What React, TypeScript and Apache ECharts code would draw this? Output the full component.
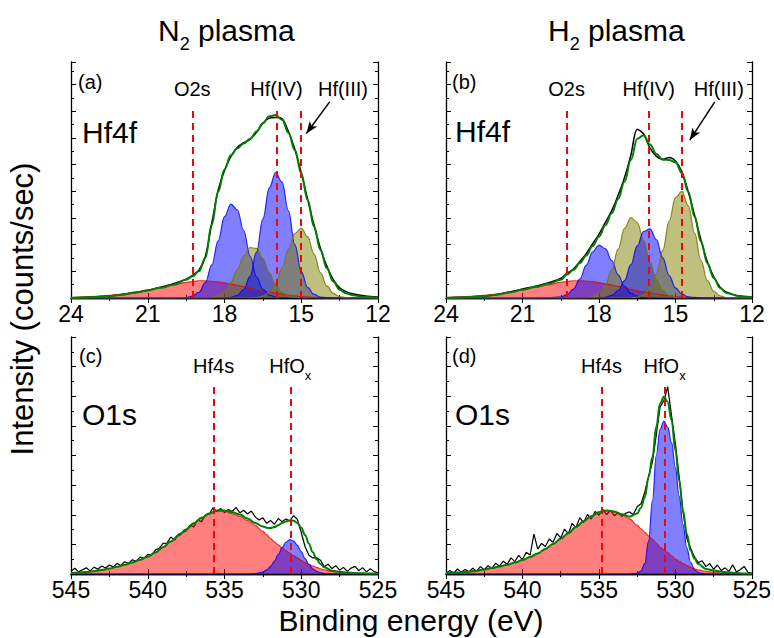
import React, { useEffect, useRef } from "react";
import * as echarts from "echarts";

const FONT = "'Liberation Sans', Arimo, Arial, Helvetica, sans-serif";

// ---------- Hf 4f (panels a, b) ----------
const hfEnergy = [24, 23.5, 23, 22.5, 22, 21.5, 21, 20.5, 20, 19.5, 19.25, 19, 18.75, 18.5, 18.25, 18, 17.75, 17.5, 17.25, 17, 16.75, 16.5, 16.25, 16, 15.75, 15.5, 15.25, 15, 14.75, 14.5, 14.25, 14, 13.75, 13.5, 13.25, 13, 12.5, 12];

const aData = [0.1, 0.3, 0.5, 0.9, 1.5, 2.3, 3.3, 4.6, 6.1, 8.0, 9.6, 11.8, 17.5, 31.5, 45.5, 54, 60, 63.8, 65.8, 67.2, 70.2, 74, 76.2, 76.5, 76, 70.5, 63, 53, 41.8, 30.8, 21, 13.5, 7.8, 4.3, 2.7, 1.8, 0.8, 0.4];
const aFit = [0, 0.2, 0.4, 0.8, 1.4, 2.2, 3.2, 4.3, 5.6, 7.7, 9.2, 11.3, 17, 31, 45, 54.5, 60.5, 63.5, 65.5, 67.5, 70.5, 74, 77, 77.5, 75.5, 70, 62.7, 52.8, 41.5, 30.3, 20.4, 12.7, 7, 3.5, 2, 1.2, 0.4, 0.2];
const aRed = [0.2, 0.4, 0.7, 1.1, 1.7, 2.5, 3.4, 4.5, 5.6, 6.6, 7.0, 7.3, 7.3, 7.1, 6.8, 6.4, 5.9, 5.4, 4.8, 4.2, 3.6, 3.0, 2.5, 2.0, 1.6, 1.2, 0.9, 0.6, 0.45, 0.3, 0.2, 0.1, 0.05, 0, 0, 0, 0, 0];
const aBlue1 = [0, 0, 0, 0, 0, 0, 0, 0, 0, 0.19, 0.76, 2.4, 6.5, 13.9, 24.2, 34.5, 39.8, 37.4, 28.6, 17.8, 9, 3.7, 1.24, 0.34, 0.08, 0, 0, 0, 0, 0, 0, 0, 0, 0, 0, 0, 0, 0];
const aOlive1 = [0, 0, 0, 0, 0, 0, 0, 0, 0, 0, 0, 0, 0, 0.32, 1.07, 2.9, 6.6, 12, 17.8, 21.4, 21, 16.7, 10.8, 5.7, 2.4, 0.9, 0.25, 0.06, 0, 0, 0, 0, 0, 0, 0, 0, 0, 0];
const aBlue2 = [0, 0, 0, 0, 0, 0, 0, 0, 0, 0, 0, 0, 0, 0, 0, 0, 0.28, 1.1, 3.6, 9.2, 19.5, 33.5, 46.7, 53.1, 49.1, 36.9, 22.6, 11.2, 4.5, 1.5, 0.4, 0.1, 0, 0, 0, 0, 0, 0];
const aOlive2 = [0, 0, 0, 0, 0, 0, 0, 0, 0, 0, 0, 0, 0, 0, 0, 0, 0, 0, 0, 0, 0.22, 0.83, 2.5, 6.2, 12.6, 20.5, 27.3, 29.6, 26, 18.6, 10.8, 5.1, 2, 0.6, 0.16, 0, 0, 0];

const bData = [0.1, 0.3, 0.5, 0.9, 1.5, 2.5, 3.8, 5.0, 6.4, 8.3, 10.5, 12.3, 15.5, 18.8, 23, 27, 32, 37, 43.5, 51, 60.5, 71.5, 69.5, 63.5, 60, 58.8, 59.5, 58, 53.5, 45, 35, 24.5, 15.3, 9, 4.6, 2.5, 0.9, 0.4];
const bFit = [0, 0.2, 0.4, 0.8, 1.4, 2.3, 3.5, 4.7, 6, 7.7, 10, 12, 14.8, 18, 22, 26, 30.8, 35.9, 42, 49.3, 58.5, 67.5, 69, 65, 61, 58.6, 58.5, 57.5, 53, 45, 34.5, 23.9, 14.8, 8.5, 4.2, 2.1, 0.7, 0.3];
const bRed = [0.2, 0.4, 0.7, 1.1, 1.7, 2.5, 3.4, 4.5, 5.6, 6.6, 7.0, 7.3, 7.3, 7.2, 6.9, 6.5, 6.0, 5.5, 4.9, 4.3, 3.7, 3.1, 2.6, 2.1, 1.7, 1.3, 1.0, 0.7, 0.5, 0.35, 0.25, 0.15, 0.08, 0.03, 0, 0, 0, 0];
const bBlue1 = [0, 0, 0, 0, 0, 0, 0, 0, 0.04, 0.45, 1.45, 3.8, 8, 13.9, 19.6, 22.4, 20.9, 15.9, 9.8, 4.9, 2, 0.66, 0.18, 0.04, 0, 0, 0, 0, 0, 0, 0, 0, 0, 0, 0, 0, 0, 0];
const bOlive1 = [0, 0, 0, 0, 0, 0, 0, 0, 0, 0, 0, 0, 0, 0.16, 0.65, 2.1, 5.5, 11.9, 20.7, 29.5, 34.1, 32, 24.5, 15.2, 7.7, 3.2, 1.06, 0.29, 0.07, 0, 0, 0, 0, 0, 0, 0, 0, 0];
const bBlue2 = [0, 0, 0, 0, 0, 0, 0, 0, 0, 0, 0, 0, 0, 0, 0, 0, 0.3, 1.1, 3.1, 7.3, 14.1, 22.1, 28.2, 29.3, 24.7, 17, 9.5, 4.3, 1.6, 0.5, 0.12, 0, 0, 0, 0, 0, 0, 0];
const bOlive2 = [0, 0, 0, 0, 0, 0, 0, 0, 0, 0, 0, 0, 0, 0, 0, 0, 0, 0, 0, 0, 0, 0.38, 1.4, 4.2, 10.2, 20.2, 32.5, 42.5, 45.2, 39.1, 27.5, 15.8, 7.4, 2.8, 0.86, 0.22, 0, 0];

// ---------- O 1s (panels c, d) ----------
const o1sEnergy = [545, 544.5, 544, 543.5, 543, 542.5, 542, 541.5, 541, 540.5, 540, 539.5, 539, 538.5, 538, 537.5, 537, 536.5, 536, 535.5, 535, 534.5, 534, 533.5, 533, 532.5, 532.25, 532, 531.75, 531.5, 531.25, 531, 530.75, 530.5, 530.25, 530, 529.75, 529.5, 529.25, 529, 528.75, 528.5, 528, 527.5, 527, 526.5, 526, 525.5, 525];

const cFit = [0.4, 0.6, 0.8, 1.2, 1.7, 2.3, 3.1, 3.9, 4.9, 6, 7.3, 9.1, 11.3, 13.7, 16.2, 18.8, 21.4, 23.7, 25.5, 26.8, 26.8, 26.1, 25.1, 23.4, 21.5, 20, 19.5, 19.4, 19.8, 20.6, 21.5, 22.2, 22.6, 22.5, 21.5, 19.5, 16.5, 12.8, 9.2, 6.2, 4.2, 2.9, 1.4, 0.9, 0.6, 0.4, 0.3, 0.2, 0.1];
const cRed = [0.4, 0.6, 0.8, 1.2, 1.7, 2.3, 3.1, 3.9, 4.9, 6, 7.3, 9.1, 11.3, 13.7, 16.2, 18.8, 21.4, 23.7, 25.5, 26.7, 26.5, 25.5, 24.3, 22.6, 20.5, 18, 16.5, 15, 13.6, 12.3, 11.1, 9.9, 8.8, 7.8, 6.8, 5.8, 4.9, 4.1, 3.4, 2.8, 2.2, 1.8, 1.1, 0.7, 0.4, 0.25, 0.15, 0.1, 0.05];
const cBlue = [0, 0, 0, 0, 0, 0, 0, 0, 0, 0, 0, 0, 0, 0, 0, 0, 0, 0, 0, 0, 0, 0, 0, 0, 0.13, 0.8, 1.7, 3.2, 5.4, 8.2, 11.1, 13.4, 14.5, 14, 12.1, 9.4, 6.5, 4, 2.2, 1.1, 0.5, 0.2, 0.03, 0, 0, 0, 0, 0, 0];

const dFit = [0.3, 0.5, 0.7, 1.0, 1.4, 1.9, 2.5, 3.2, 3.9, 4.8, 5.9, 7.2, 8.7, 10.6, 12.7, 14.9, 17.2, 19.8, 22.3, 24.4, 26.1, 26.8, 26.4, 25.2, 24.2, 25.5, 28, 32.4, 40.9, 49.4, 62.1, 71.9, 74.8, 72.6, 64.9, 52.2, 39.5, 26.8, 16.9, 9.9, 6.5, 4.2, 2.1, 1.5, 1.0, 0.7, 0.4, 0.25, 0.1];
const dRed = [0.3, 0.5, 0.7, 1.0, 1.4, 1.9, 2.5, 3.2, 3.9, 4.8, 5.9, 7.2, 8.7, 10.6, 12.7, 14.9, 17.2, 19.8, 22.3, 24.4, 26.1, 26.8, 26.1, 24.9, 23.3, 20.6, 19.1, 17.6, 16.1, 14.6, 13, 11.3, 10.2, 9, 7.7, 6.3, 5.3, 4.4, 3.6, 2.8, 2.2, 1.7, 1.1, 0.7, 0.4, 0.25, 0.15, 0.08, 0.04];
const dBlue = [0, 0, 0, 0, 0, 0, 0, 0, 0, 0, 0, 0, 0, 0, 0, 0, 0, 0, 0, 0, 0, 0, 0, 0, 0, 0.3, 1.2, 4.5, 14, 31, 50, 61, 64.5, 62, 55.5, 45, 33, 21, 11, 4.8, 1.8, 0.6, 0.05, 0, 0, 0, 0, 0, 0];

const o1sDataEnergy = [
  545, 544.75, 544.5, 544.25, 544, 543.75, 543.5, 543.25,
  543, 542.75, 542.5, 542.25, 542, 541.75, 541.5, 541.25,
  541, 540.75, 540.5, 540.25, 540, 539.75, 539.5, 539.25,
  539, 538.75, 538.5, 538.25, 538, 537.75, 537.5, 537.25,
  537, 536.75, 536.5, 536.25, 536, 535.75, 535.5, 535.25,
  535, 534.75, 534.5, 534.25, 534, 533.75, 533.5, 533.25,
  533, 532.75, 532.5, 532.25, 532, 531.75, 531.5, 531.25,
  531, 530.75, 530.5, 530.25, 530, 529.75, 529.5, 529.25,
  529, 528.75, 528.5, 528.25, 528, 527.75, 527.5, 527.25,
  527, 526.75, 526.5, 526.25, 526, 525.75, 525.5, 525.25,
  525,
];
const cData = [
  1.2, 2.4, 0.9, 1.8, 2.6, 1.3, 2.9, 2.0,
  3.4, 2.5, 3.8, 3.0, 4.4, 3.6, 5.2, 4.5,
  6.0, 5.4, 7.1, 6.6, 8.3, 7.9, 10.2, 10.8,
  12.9, 13.0, 15.6, 14.3, 16.8, 17.5, 18.2, 20.6,
  19.9, 22.8, 22.1, 24.9, 25.2, 27.9, 26.3, 27.6,
  25.9, 27.2, 26.4, 28.1, 25.8, 26.9, 25.3, 26.6,
  24.1, 22.8, 23.7, 21.4, 22.6, 21.0, 23.4, 22.1,
  23.2, 22.4, 24.6, 23.0, 17.5, 11.5, 7.9, 6.8,
  6.9, 5.8, 3.1, 4.2, 2.3, 3.5, 1.6, 2.8,
  1.1, 2.5, 3.2, 1.4, 2.7, 0.9, 2.2, 1.0,
  0.5,
];
const dData = [
  0.2, 1.5, 0.4, 2.1, 0.8, 1.9, 0.9, 2.4,
  1.2, 3.1, 1.8, 3.5, 2.4, 4.6, 3.3, 5.4,
  4.1, 6.8, 5.2, 7.9, 6.1, 9.2, 8.0, 16.8,
  10.5, 12.9, 11.6, 14.8, 13.4, 17.1, 15.2, 18.9,
  17.0, 21.4, 19.6, 23.8, 21.7, 25.1, 23.2, 26.4,
  24.8, 27.3, 25.0, 26.9, 24.6, 25.8, 24.3, 25.6,
  26.2, 25.1, 28.4, 29.6, 34.5, 41.3, 47.2, 58.5,
  70.4, 73.2, 79.0, 66.8, 55.1, 41.0, 26.4, 15.0,
  10.9, 7.2, 4.8, 5.6, 3.1, 4.4, 2.0, 3.8,
  1.5, 2.6, 1.1, 3.9, 0.8, 1.9, 3.2, 0.7,
  0.4,
];

// ---------- annotations ----------
const aLabels = ["O2s", "Hf(IV)", "Hf(III)"];
const aLabelE = [19.26, 15.97, 13.37];
const aLineE = [19.26, 15.97, 15.01];
const aArrow = [[13.89, 83.1], [14.8, 69.7]];

const bLabels = ["O2s", "Hf(IV)", "Hf(III)"];
const bLabelE = [19.27, 16.05, 13.3];
const bLineE = [19.27, 16.04, 14.77];
const bArrow = [[13.46, 83.1], [14.44, 66.9]];

const cLabels = ["Hf4s", "HfOx"];
const cLabelE = [535.71, 530.71];
const cLineE = [535.71, 530.71];

const dLabels = ["Hf4s", "HfOx"];
const dLabelE = [534.83, 530.7];
const dLineE = [534.83, 530.7];

const hfLabelY = 88.7;
const hfLineTop = 79.6;
const o1sLabelY = 87.9;
const o1sLineTop = 80.4;

const COLORS: any = {
  red: { fill: "rgba(255,0,0,0.5)", line: "rgba(230,0,0,0.75)" },
  blue: { fill: "rgba(0,0,255,0.5)", line: "rgba(0,0,255,0.8)" },
  olive: { fill: "rgba(128,128,0,0.5)", line: "rgba(120,120,0,0.85)" },
};

function pairs(xs: number[], ys: number[]) {
  return xs.map((x, i) => [x, ys[i]]);
}

function buildOption() {
  const grids = [
    { left: 71, top: 62, width: 307, height: 236 },
    { left: 446, top: 62, width: 306, height: 236 },
    { left: 71, top: 337, width: 307, height: 237 },
    { left: 446, top: 337, width: 306, height: 237 },
  ];

  const panels: any[] = [
    {
      xMin: 12, xMax: 24, xInt: 3, yInt: 11.3,
      dataE: hfEnergy, data: aData, dataSmooth: 0.3, dataWidth: 1.5,
      fitE: hfEnergy, fit: aFit,
      comps: [[aRed, "red"], [aBlue1, "blue"], [aOlive1, "olive"], [aBlue2, "blue"], [aOlive2, "olive"]],
      labels: aLabels, labelE: aLabelE, labelY: hfLabelY, lineE: aLineE, lineTop: hfLineTop, arrow: aArrow,
    },
    {
      xMin: 12, xMax: 24, xInt: 3, yInt: 11.3,
      dataE: hfEnergy, data: bData, dataSmooth: 0.3, dataWidth: 1.5,
      fitE: hfEnergy, fit: bFit,
      comps: [[bRed, "red"], [bBlue1, "blue"], [bOlive1, "olive"], [bBlue2, "blue"], [bOlive2, "olive"]],
      labels: bLabels, labelE: bLabelE, labelY: hfLabelY, lineE: bLineE, lineTop: hfLineTop, arrow: bArrow,
    },
    {
      xMin: 525, xMax: 545, xInt: 5, yInt: 12.5,
      dataE: o1sDataEnergy, data: cData, dataSmooth: false, dataWidth: 1.2,
      fitE: o1sEnergy, fit: cFit,
      comps: [[cRed, "red"], [cBlue, "blue"]],
      labels: cLabels, labelE: cLabelE, labelY: o1sLabelY, lineE: cLineE, lineTop: o1sLineTop, arrow: null,
    },
    {
      xMin: 525, xMax: 545, xInt: 5, yInt: 12.5,
      dataE: o1sDataEnergy, data: dData, dataSmooth: false, dataWidth: 1.2,
      fitE: o1sEnergy, fit: dFit,
      comps: [[dRed, "red"], [dBlue, "blue"]],
      labels: dLabels, labelE: dLabelE, labelY: o1sLabelY, lineE: dLineE, lineTop: o1sLineTop, arrow: null,
    },
  ];

  const axisLine = { show: true, lineStyle: { color: "#000", width: 1.3 } };
  const axisTick = { show: true, inside: true, length: 5, lineStyle: { color: "#000", width: 1 } };
  const minorTick = { show: true, splitNumber: 2, length: 3, lineStyle: { color: "#000", width: 1 } };

  const xAxis: any[] = [];
  const yAxis: any[] = [];
  const series: any[] = [];

  panels.forEach((p, i) => {
    const base = {
      gridIndex: i, type: "value", min: p.xMin, max: p.xMax, interval: p.xInt, inverse: true,
      axisLine, axisTick, minorTick, splitLine: { show: false }, minorSplitLine: { show: false },
    };
    xAxis.push({
      ...base, position: "bottom",
      axisLabel: { show: true, fontSize: 23, fontFamily: FONT, color: "#000", margin: 4, showMinLabel: true, showMaxLabel: true },
    });
    xAxis.push({ ...base, position: "top", axisLabel: { show: false } });
    const ybase = {
      gridIndex: i, type: "value", min: 0, max: 100, interval: p.yInt,
      axisLine, axisTick, minorTick, splitLine: { show: false }, minorSplitLine: { show: false },
      axisLabel: { show: false },
    };
    yAxis.push({ ...ybase, position: "left" });
    yAxis.push({ ...ybase, position: "right" });

    const xi = 2 * i;
    const yi = 2 * i;

    series.push({
      type: "line", xAxisIndex: xi, yAxisIndex: yi, z: 2, silent: true,
      data: pairs(p.dataE, p.data), showSymbol: false, symbol: "none",
      smooth: p.dataSmooth, lineStyle: { color: "#000", width: p.dataWidth },
    });
    p.comps.forEach(([vals, c]: [number[], string]) => {
      series.push({
        type: "line", xAxisIndex: xi, yAxisIndex: yi, z: 3, silent: true,
        data: pairs(p.fitE, vals), showSymbol: false, symbol: "none",
        smooth: 0.4, smoothMonotone: "x",
        lineStyle: { color: COLORS[c].line, width: 1.2 },
        areaStyle: { color: COLORS[c].fill, opacity: 1 },
      });
    });
    series.push({
      type: "line", xAxisIndex: xi, yAxisIndex: yi, z: 4, silent: true,
      data: pairs(p.fitE, p.fit), showSymbol: false, symbol: "none",
      smooth: 0.4, smoothMonotone: "x",
      lineStyle: { color: "#008000", width: 2 },
    });

    const mlData: any[] = p.lineE.map((e: number) => [
      { coord: [e, 0], symbol: "none" },
      { coord: [e, p.lineTop], symbol: "none" },
    ]);
    if (p.arrow) {
      mlData.push([
        { coord: p.arrow[0], symbol: "none", lineStyle: { color: "#000", type: "solid", width: 1.5 } },
        { coord: p.arrow[1], symbol: "arrow", symbolSize: [7, 12] },
      ]);
    }
    series.push({
      type: "scatter", xAxisIndex: xi, yAxisIndex: yi, z: 10, silent: true,
      symbolSize: 1, itemStyle: { color: "rgba(0,0,0,0)", opacity: 1 },
      data: p.labels.map((n: string, k: number) => ({ name: n, value: [p.labelE[k], p.labelY] })),
      label: {
        show: true, position: "inside", color: "#000", opacity: 1, fontSize: 20, fontFamily: FONT,
        formatter: (q: any) => (q.name === "HfOx" ? "{m|HfO}{s|x}" : q.name),
        rich: {
          m: { fontSize: 20, fontFamily: FONT, color: "#000", lineHeight: 32 },
          s: { fontSize: 13, fontFamily: FONT, color: "#000", lineHeight: 13, verticalAlign: "bottom" },
        },
      },
      markLine: {
        silent: true, symbol: ["none", "none"], animation: false,
        label: { show: false },
        lineStyle: { color: "#ff0000", type: [7, 5], width: 2, opacity: 1 },
        data: mlData,
      },
    });
  });

  const txt = (text: string, x: number, y: number, size: number, align = "left", extra: any = {}) => ({
    type: "text", x, y, z: 20, silent: true, ...extra,
    style: {
      text, fontSize: size, fontFamily: FONT, fill: "#000",
      align, verticalAlign: "middle", textAlign: align, textVerticalAlign: "middle",
    },
  });

  const richTitle = (main: string, sub: string, rest: string, x: number, y: number) => ({
    type: "text", x, y, z: 20, silent: true,
    style: {
      text: `{m|${main}}{s|${sub}}{m|${rest}}`,
      fontFamily: FONT, fill: "#000", align: "left", verticalAlign: "middle",
      textAlign: "left", textVerticalAlign: "middle",
      rich: {
        m: { fontSize: 30, fontFamily: FONT, fill: "#000", color: "#000", lineHeight: 46 },
        s: { fontSize: 18, fontFamily: FONT, fill: "#000", color: "#000", lineHeight: 18, verticalAlign: "bottom" },
      },
    },
  });

  const graphic = [
    txt("(a)", 78, 82, 20),
    txt("(b)", 452, 82, 20),
    txt("(c)", 79, 356, 20),
    txt("(d)", 452, 356, 20),
    txt("Hf4f", 82, 132, 30),
    txt("Hf4f", 455, 131, 30),
    txt("O1s", 82, 414, 30),
    txt("O1s", 455, 414, 30),
    richTitle("N", "2", " plasma", 158, 30),
    richTitle("H", "2", " plasma", 548, 30),
    txt("Binding energy (eV)", 411, 620, 30, "center"),
    txt("Intensity (counts/sec)", 22, 309, 31, "center", { rotation: Math.PI / 2 }),
  ];

  return {
    animation: false,
    backgroundColor: "#fff",
    grid: grids,
    xAxis,
    yAxis,
    series,
    graphic,
  };
}

export default function App() {
  const ref = useRef<HTMLDivElement>(null);
  useEffect(() => {
    const chart = echarts.init(ref.current!, null, { renderer: "svg" });
    chart.setOption(buildOption() as any);
    return () => chart.dispose();
  }, []);
  return (
    <div
      ref={ref}
      style={{ position: "fixed", left: 0, top: 0, width: 774, height: 638, background: "#fff" }}
    />
  );
}
